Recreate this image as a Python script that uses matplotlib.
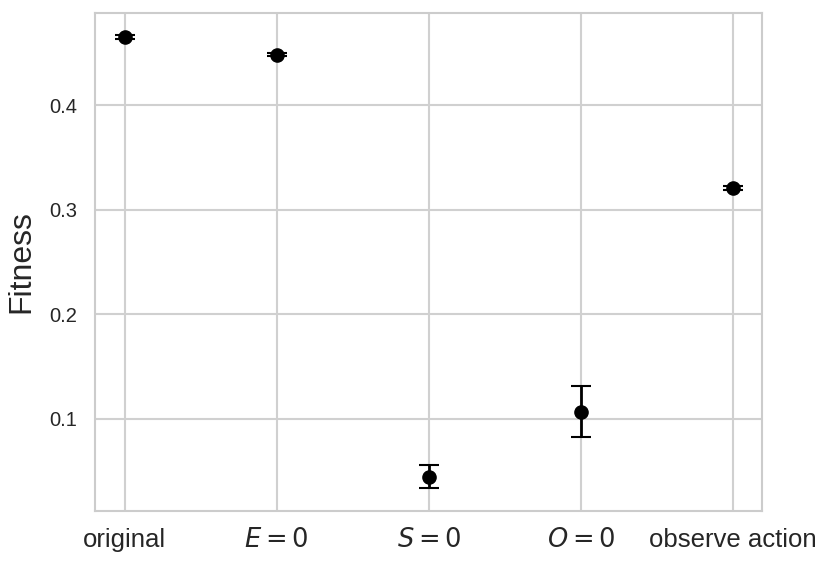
import matplotlib
matplotlib.use("Agg")
import matplotlib.pyplot as plt
import seaborn as sns
import numpy as np

labels = ["original", "$E = 0$", "$S = 0$", "$O = 0$", "observe action"]
fitness = [0.465, 0.448, 0.0445, 0.107, 0.3205]
err_lo = [0.0015, 0.0015, 0.011, 0.0245, 0.002]
err_hi = [0.0015, 0.0015, 0.0115, 0.0245, 0.002]

sns.set_style("whitegrid")
plt.rcParams["font.family"] = ["Liberation Sans", "DejaVu Sans"]
plt.rcParams["mathtext.fontset"] = "dejavusans"

fig, ax = plt.subplots(figsize=(8.31, 5.67), dpi=100)

x = np.arange(len(labels))
ax.errorbar(x, fitness, yerr=[err_lo, err_hi], fmt="o", color="black",
            markersize=9.5, capsize=7, elinewidth=2, capthick=1.5)

ax.set_xticks(x)
ax.set_xticklabels(labels, fontsize=18.5)
ax.set_yticks([0.1, 0.2, 0.3, 0.4])
ax.set_yticklabels(["0.1", "0.2", "0.3", "0.4"], fontsize=14.5)
ax.set_ylim(0.0121, 0.4879)
ax.set_xlim(-0.197, 4.19)
ax.set_ylabel("Fitness", fontsize=23)
ax.yaxis.set_label_coords(-0.087, 0.5)
ax.tick_params(axis="x", pad=9)
ax.tick_params(axis="y", pad=9)

for s in ax.spines.values():
    s.set_color("#cccccc")
    s.set_linewidth(1.5)
ax.grid(color="#d0d0d0", linewidth=1.5)

fig.subplots_adjust(left=0.114, right=0.917, top=0.977, bottom=0.099)
fig.savefig("out.png", dpi=100)
